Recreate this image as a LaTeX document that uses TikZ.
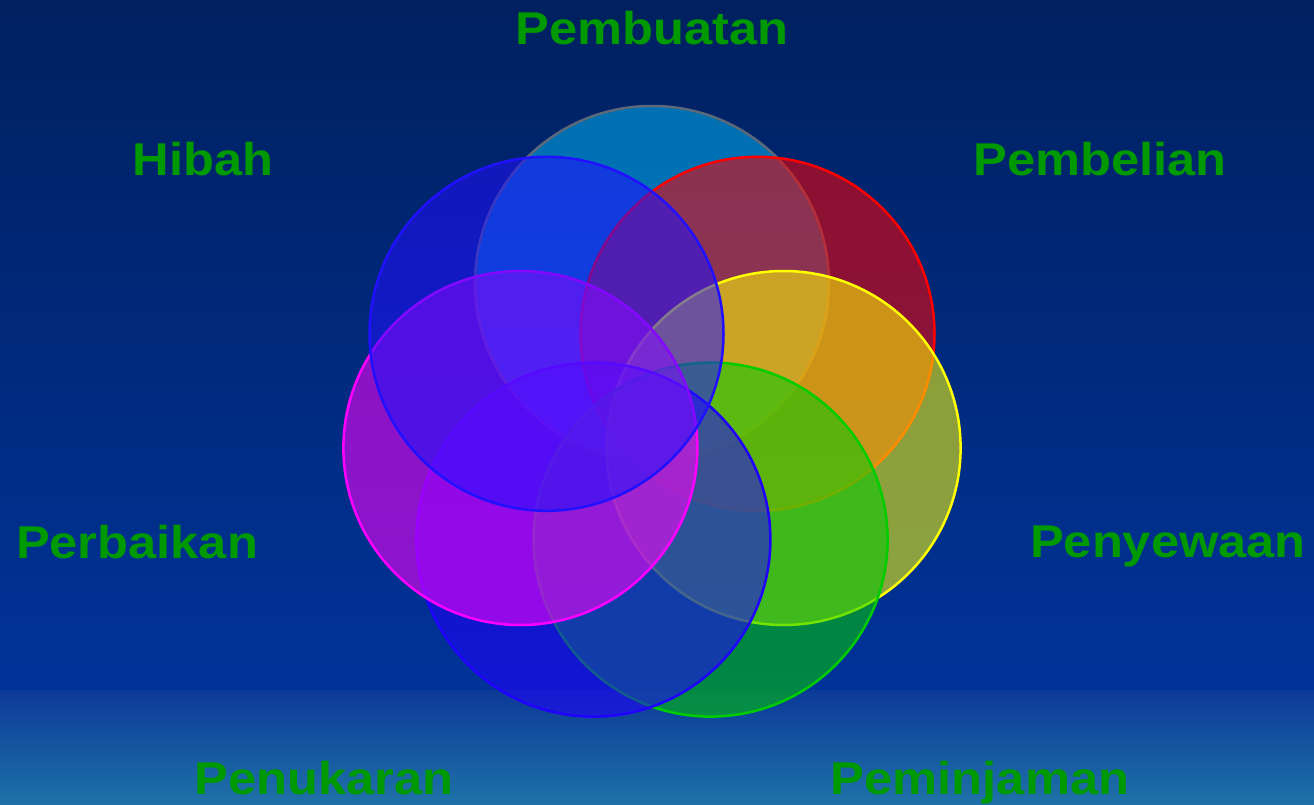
\documentclass[tikz,border=0pt]{standalone}
\usepackage{fontspec}
\setmainfont{Liberation Sans}
\newfontfamily\labelfont[FakeStretch=1.1]{Liberation Sans Bold}
\definecolor{bgtop}{HTML}{00205F}
\definecolor{bgmid}{HTML}{003399}
\definecolor{bandtop}{HTML}{0C3A98}
\definecolor{bandbot}{HTML}{1E72A8}
\definecolor{lblgreen}{HTML}{009900}
\definecolor{cA}{HTML}{00B0F0}
\definecolor{cAline}{HTML}{5A6A7A}
\definecolor{cB}{HTML}{FF0000}
\definecolor{cC}{HTML}{FFFF00}
\definecolor{cD}{HTML}{00CC00}
\definecolor{cE}{HTML}{2000FF}
\definecolor{cF}{HTML}{FF00FF}
\definecolor{cG}{HTML}{2010FF}
\tikzset{
  ring/.style={circle, minimum size=354pt, inner sep=0pt, line width=2.5pt, fill opacity=0.55},
  lbl/.style={anchor=base, text=lblgreen, font=\labelfont\fontsize{46}{50}\selectfont, inner sep=0pt}
}
\begin{document}
\begin{tikzpicture}[x=1pt,y=-1pt]
\useasboundingbox (0,0) rectangle (1314,805);
\shade[top color=bgtop, bottom color=bgmid] (0,0) rectangle (1314,690);
\shade[top color=bandtop, bottom color=bandbot] (0,690) rectangle (1314,805);
% circles, drawn clockwise from top; last on top
\node[ring, fill=cA, draw=cAline] (c1) at (652,283) {};
\node[ring, fill=cB, draw=cB] (c2) at (757.5,333.8) {};
\node[ring, fill=cC, draw=cC] (c3) at (783.6,448) {};
\node[ring, fill=cD, draw=cD] (c4) at (710.6,539.6) {};
\node[ring, fill=cE, draw=cE] (c5) at (593.4,539.6) {};
\node[ring, fill=cF, draw=cF] (c6) at (520.4,448) {};
\node[ring, fill=cG, draw=cG] (c7) at (546.5,333.8) {};
% labels
\node[lbl] (l1) at (652,45) {Pembuatan};
\node[lbl] (l2) at (203,176) {Hibah};
\node[lbl] (l3) at (1100,176) {Pembelian};
\node[lbl] (l4) at (137,558) {Perbaikan};
\node[lbl] (l5) at (1168,557) {Penyewaan};
\node[lbl] (l6) at (324,794) {Penukaran};
\node[lbl] (l7) at (980,794) {Peminjaman};
\end{tikzpicture}
\end{document}
